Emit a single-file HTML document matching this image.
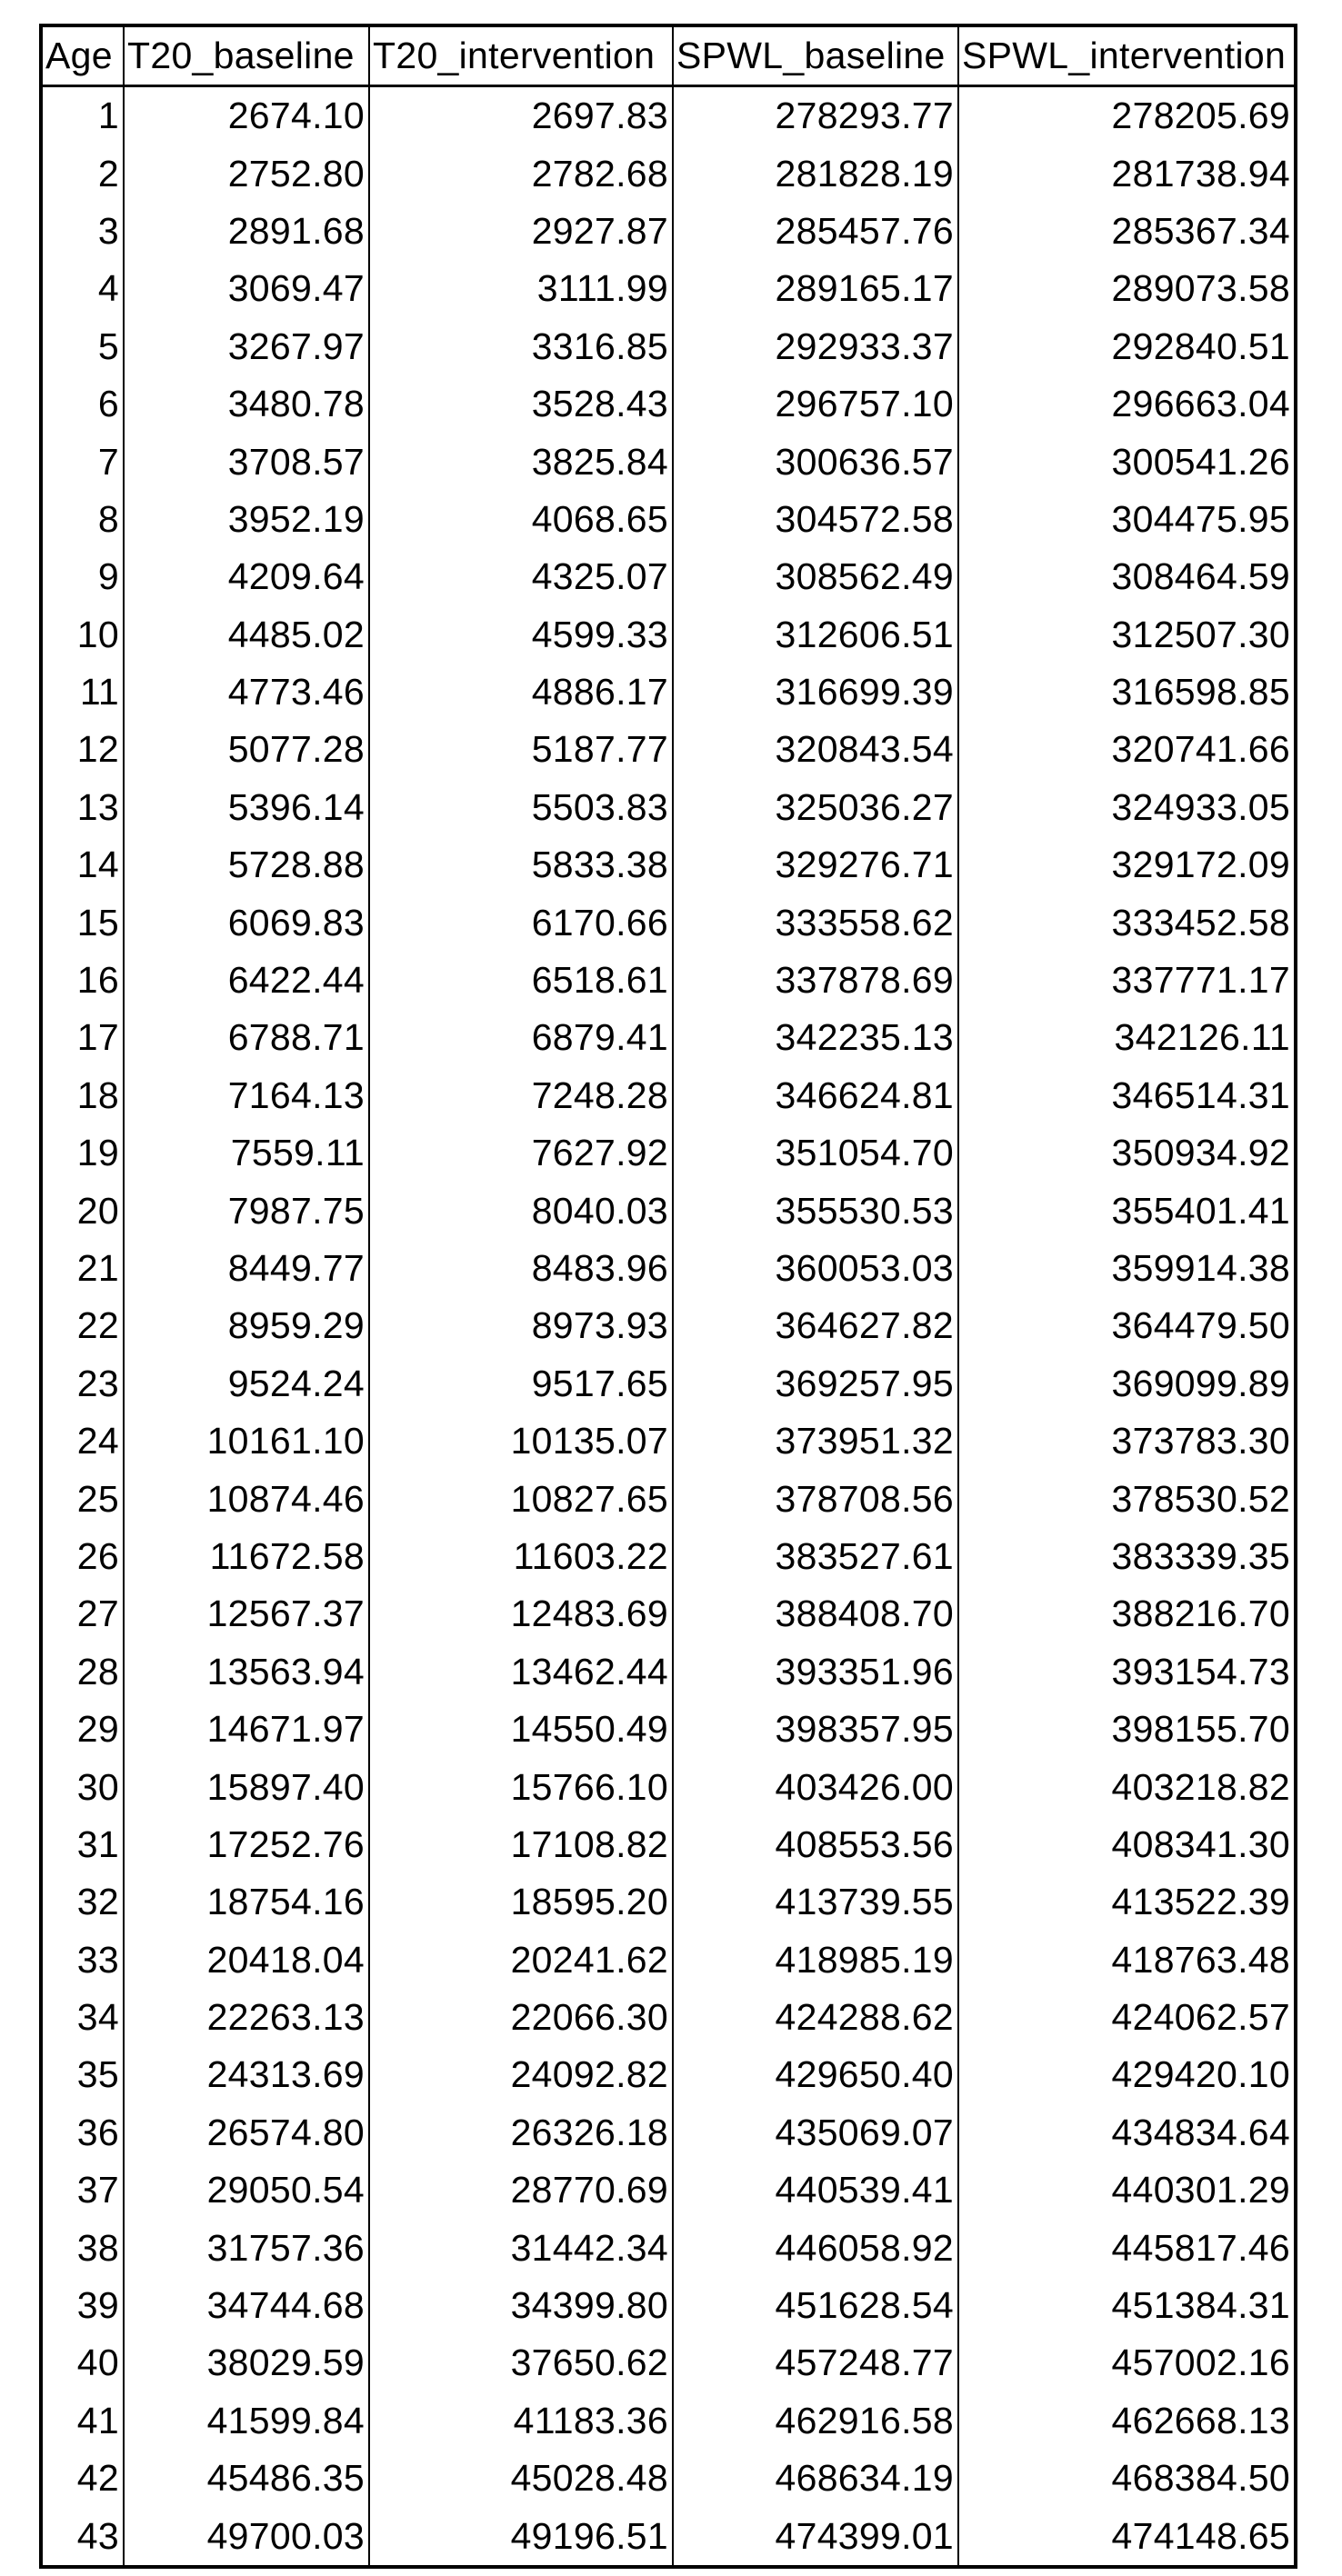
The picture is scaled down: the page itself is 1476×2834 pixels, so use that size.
<!DOCTYPE html>
<html><head><meta charset="utf-8">
<style>
html,body{margin:0;padding:0;background:#fff;}
body{width:1476px;height:2834px;position:relative;overflow:hidden;font-family:"Liberation Sans",sans-serif;}
#tbl{position:absolute;left:43px;top:26px;border-collapse:collapse;table-layout:fixed;border:4px solid #000;}
#tbl td,#tbl th{font-size:41px;font-weight:normal;color:#000;padding:0 4px 0 4px;white-space:nowrap;border-left:2.5px solid #000;border-right:2.5px solid #000;letter-spacing:0.3px;}
#tbl th{height:63px;text-align:left;border-bottom:3.5px solid #000;padding-left:3px;}
#tbl td{height:63.4px;text-align:right;line-height:63px;}
</style></head>
<body>
<table id="tbl">
<colgroup><col style="width:91px"><col style="width:270px"><col style="width:334px"><col style="width:314px"><col style="width:371px"></colgroup>
<thead><tr>
<th>Age</th>
<th>T20_baseline</th>
<th>T20_intervention</th>
<th>SPWL_baseline</th>
<th>SPWL_intervention</th>
</tr></thead>
<tbody id="tb"></tbody>
</table>
<script>
const t20b=["2674.10","2752.80","2891.68","3069.47","3267.97","3480.78","3708.57","3952.19","4209.64","4485.02","4773.46","5077.28","5396.14","5728.88","6069.83","6422.44","6788.71","7164.13","7559.11","7987.75","8449.77","8959.29","9524.24","10161.10","10874.46","11672.58","12567.37","13563.94","14671.97","15897.40","17252.76","18754.16","20418.04","22263.13","24313.69","26574.80","29050.54","31757.36","34744.68","38029.59","41599.84","45486.35","49700.03"];
const t20i=["2697.83","2782.68","2927.87","3111.99","3316.85","3528.43","3825.84","4068.65","4325.07","4599.33","4886.17","5187.77","5503.83","5833.38","6170.66","6518.61","6879.41","7248.28","7627.92","8040.03","8483.96","8973.93","9517.65","10135.07","10827.65","11603.22","12483.69","13462.44","14550.49","15766.10","17108.82","18595.20","20241.62","22066.30","24092.82","26326.18","28770.69","31442.34","34399.80","37650.62","41183.36","45028.48","49196.51"];
const spb=["278293.77","281828.19","285457.76","289165.17","292933.37","296757.10","300636.57","304572.58","308562.49","312606.51","316699.39","320843.54","325036.27","329276.71","333558.62","337878.69","342235.13","346624.81","351054.70","355530.53","360053.03","364627.82","369257.95","373951.32","378708.56","383527.61","388408.70","393351.96","398357.95","403426.00","408553.56","413739.55","418985.19","424288.62","429650.40","435069.07","440539.41","446058.92","451628.54","457248.77","462916.58","468634.19","474399.01"];
const spi=["278205.69","281738.94","285367.34","289073.58","292840.51","296663.04","300541.26","304475.95","308464.59","312507.30","316598.85","320741.66","324933.05","329172.09","333452.58","337771.17","342126.11","346514.31","350934.92","355401.41","359914.38","364479.50","369099.89","373783.30","378530.52","383339.35","388216.70","393154.73","398155.70","403218.82","408341.30","413522.39","418763.48","424062.57","429420.10","434834.64","440301.29","445817.46","451384.31","457002.16","462668.13","468384.50","474148.65"];
const colNames=["age-cell","t20-baseline-cell","t20-intervention-cell","spwl-baseline-cell","spwl-intervention-cell"];
const tb=document.getElementById('tb');
for(let i=0;i<t20b.length;i++){
  const tr=document.createElement('tr');
  
  
  const vals=[String(i+1),t20b[i],t20i[i],spb[i],spi[i]];
  for(let j=0;j<5;j++){
    const td=document.createElement('td');
    
    
    td.textContent=vals[j];
    tr.appendChild(td);
  }
  tb.appendChild(tr);
}
</script>
</body></html>
